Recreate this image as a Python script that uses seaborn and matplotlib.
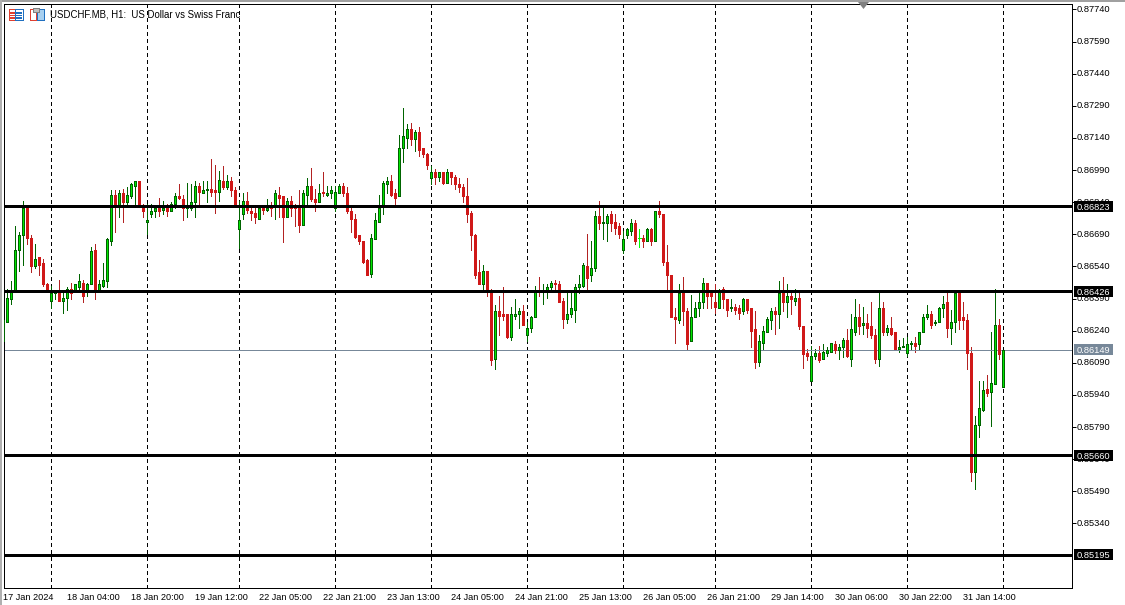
import numpy as np
import pandas as pd
import matplotlib
matplotlib.use("Agg")
import matplotlib.pyplot as plt
import seaborn as sns
from matplotlib.patches import Rectangle, Polygon
from matplotlib.transforms import ScaledTranslation

# H1 candles, prices in points (1 point = 0.00001)
open_pts = [
    86194, 86283, 86390, 86428, 86619, 86685, 86811, 86675, 86540, 86582,
    86554, 86456, 86381, 86414, 86432, 86381, 86395, 86437, 86428, 86446,
    86465, 86423, 86460, 86619, 86428, 86451, 86474, 86661, 86876, 86820,
    86885, 86843, 86871, 86918, 86937, 86820, 86750, 86787, 86797, 86815,
    86806, 86815, 86797, 86834, 86871, 86857, 86815, 86815, 86843, 86918,
    86885, 86895, 86904, 86895, 86890, 86941, 86909, 86941, 86895, 86717,
    86787, 86848, 86801, 86792, 86764, 86815, 86806, 86820, 86825, 86876,
    86871, 86769, 86848, 86815, 86811, 86736, 86876, 86918, 86857, 86839,
    86890, 86876, 86881, 86811, 86881, 86918, 86885, 86801, 86764, 86685,
    86661, 86568, 86507, 86666, 86750, 86825, 86927, 86937, 86881, 86867,
    87091, 87142, 87184, 87133, 87166, 87091, 87067, 86951, 86983, 86960,
    86979, 86932, 86979, 86960, 86927, 86913, 86867, 86792, 86689, 86512,
    86456, 86521, 86418, 86110, 86334, 86320, 86320, 86213, 86311, 86316,
    86334, 86222, 86255, 86306, 86432, 86423, 86428, 86446, 86465, 86460,
    86381, 86297, 86316, 86339, 86442, 86451, 86540, 86498, 86535, 86778,
    86741, 86745, 86783, 86750, 86727, 86619, 86685, 86708, 86741, 86671,
    86671, 86657, 86717, 86657, 86797, 86787, 86563, 86502, 86306, 86292,
    86418, 86334, 86190, 86302, 86348, 86372, 86465, 86414, 86372, 86348,
    86437, 86390, 86344, 86353, 86344, 86330, 86386, 86344, 86246, 86096,
    86185, 86236, 86288, 86334, 86316, 86414, 86376, 86400, 86381, 86395,
    86264, 86138, 86007, 86124, 86138, 86110, 86138, 86143, 86180, 86148,
    86162, 86199, 86110, 86236, 86302, 86269, 86274, 86260, 86222, 86110,
    86344, 86236, 86255, 86232, 86157, 86162, 86134, 86180, 86185, 86176,
    86232, 86302, 86316, 86274, 86283, 86348, 86372, 86255, 86283, 86414,
    86302, 86292, 86134, 85582, 85802, 85872, 85970, 85956, 85993, 86269,
    85975,
]
high_pts = [
    86288, 86437, 86474, 86727, 86703, 86848, 86815, 86689, 86647, 86582,
    86577, 86465, 86451, 86432, 86479, 86418, 86442, 86465, 86460, 86507,
    86479, 86465, 86629, 86643, 86479, 86554, 86675, 86895, 86895, 86895,
    86904, 86909, 86932, 86941, 86937, 86834, 86834, 86834, 86829, 86862,
    86848, 86834, 86839, 86881, 86927, 86876, 86932, 86923, 86937, 86932,
    86937, 86937, 87044, 87016, 86988, 87011, 86965, 86960, 86913, 86848,
    86881, 86890, 86820, 86811, 86829, 86825, 86853, 86839, 86895, 86913,
    86871, 86862, 86871, 86834, 86895, 86899, 86951, 87002, 86904, 86927,
    86979, 86918, 86918, 86918, 86927, 86932, 86909, 86820, 86783, 86685,
    86661, 86577, 86694, 86792, 86876, 86937, 86960, 86965, 86904, 87156,
    87278, 87203, 87208, 87175, 87189, 87091, 87072, 87011, 86993, 86979,
    86983, 86993, 86983, 86969, 86955, 86927, 86951, 86801, 86694, 86568,
    86545, 86521, 86437, 86362, 86404, 86442, 86320, 86353, 86390, 86344,
    86362, 86283, 86311, 86451, 86493, 86460, 86460, 86470, 86479, 86470,
    86395, 86432, 86423, 86456, 86498, 86554, 86694, 86657, 86797, 86848,
    86815, 86787, 86797, 86783, 86745, 86708, 86722, 86764, 86759, 86717,
    86685, 86722, 86722, 86801, 86848, 86787, 86638, 86502, 86344, 86460,
    86493, 86348, 86409, 86376, 86432, 86488, 86465, 86428, 86460, 86437,
    86446, 86390, 86386, 86367, 86358, 86395, 86386, 86344, 86330, 86218,
    86260, 86302, 86348, 86353, 86474, 86493, 86456, 86414, 86437, 86414,
    86264, 86157, 86171, 86157, 86171, 86176, 86166, 86185, 86190, 86176,
    86208, 86250, 86316, 86390, 86367, 86353, 86316, 86372, 86246, 86432,
    86376, 86269, 86306, 86232, 86199, 86204, 86213, 86190, 86213, 86232,
    86320, 86362, 86330, 86292, 86353, 86400, 86414, 86339, 86432, 86414,
    86372, 86320, 86166, 85844, 86007, 86007, 86031, 86236, 86437, 86297,
    86148,
]
low_pts = [
    86190, 86283, 86367, 86428, 86521, 86549, 86643, 86512, 86535, 86502,
    86451, 86423, 86344, 86390, 86381, 86325, 86339, 86386, 86428, 86437,
    86372, 86400, 86460, 86390, 86428, 86446, 86442, 86638, 86703, 86773,
    86750, 86825, 86862, 86829, 86820, 86769, 86694, 86773, 86773, 86778,
    86787, 86778, 86797, 86811, 86853, 86759, 86769, 86806, 86773, 86825,
    86885, 86839, 86871, 86792, 86848, 86904, 86904, 86867, 86820, 86624,
    86764, 86792, 86759, 86745, 86764, 86787, 86797, 86778, 86764, 86773,
    86652, 86769, 86778, 86727, 86703, 86736, 86825, 86848, 86801, 86839,
    86867, 86871, 86862, 86801, 86881, 86867, 86792, 86703, 86671, 86647,
    86554, 86498, 86493, 86666, 86750, 86787, 86881, 86871, 86825, 86867,
    87030, 87095, 87105, 87077, 87058, 87049, 86993, 86927, 86927, 86937,
    86927, 86932, 86923, 86904, 86890, 86839, 86750, 86619, 86484, 86456,
    86428, 86400, 86078, 86059, 86222, 86288, 86204, 86199, 86297, 86255,
    86269, 86194, 86236, 86306, 86404, 86367, 86395, 86428, 86428, 86372,
    86255, 86274, 86302, 86283, 86414, 86442, 86428, 86470, 86521, 86713,
    86666, 86661, 86708, 86694, 86675, 86601, 86671, 86689, 86647, 86633,
    86633, 86657, 86638, 86657, 86769, 86549, 86437, 86302, 86185, 86278,
    86269, 86157, 86190, 86302, 86311, 86348, 86348, 86344, 86325, 86344,
    86348, 86311, 86334, 86320, 86297, 86316, 86325, 86162, 86064, 86073,
    86152, 86236, 86246, 86227, 86255, 86330, 86306, 86316, 86362, 86246,
    86064, 86101, 86007, 86106, 86096, 86106, 86120, 86143, 86138, 86110,
    86115, 86115, 86073, 86222, 86227, 86227, 86213, 86204, 86087, 86073,
    86218, 86218, 86218, 86152, 86143, 86162, 86124, 86152, 86143, 86152,
    86232, 86297, 86255, 86269, 86283, 86302, 86213, 86180, 86236, 86250,
    86246, 86059, 85540, 85503, 85746, 85863, 85933, 85793, 85989, 86110,
    85975,
]
close_pts = [
    86288, 86395, 86423, 86615, 86689, 86811, 86675, 86540, 86577, 86549,
    86456, 86423, 86414, 86423, 86381, 86395, 86437, 86414, 86456, 86474,
    86404, 86460, 86610, 86428, 86456, 86479, 86666, 86876, 86820, 86885,
    86843, 86876, 86923, 86937, 86829, 86797, 86759, 86801, 86815, 86801,
    86815, 86797, 86834, 86867, 86862, 86815, 86829, 86843, 86918, 86890,
    86899, 86904, 86890, 86890, 86946, 86909, 86937, 86895, 86820, 86759,
    86848, 86806, 86792, 86769, 86811, 86806, 86811, 86811, 86881, 86862,
    86769, 86848, 86811, 86811, 86736, 86881, 86918, 86857, 86843, 86885,
    86881, 86881, 86899, 86890, 86918, 86881, 86797, 86764, 86680, 86657,
    86559, 86502, 86671, 86755, 86815, 86932, 86937, 86876, 86862, 87095,
    87147, 87184, 87133, 87166, 87086, 87063, 87016, 86983, 86960, 86979,
    86932, 86979, 86960, 86923, 86909, 86871, 86787, 86685, 86502, 86456,
    86521, 86423, 86101, 86334, 86311, 86311, 86213, 86316, 86320, 86330,
    86269, 86255, 86302, 86432, 86423, 86432, 86446, 86465, 86460, 86376,
    86297, 86320, 86344, 86446, 86456, 86545, 86488, 86535, 86778, 86741,
    86750, 86778, 86745, 86722, 86694, 86666, 86713, 86741, 86661, 86671,
    86661, 86713, 86661, 86797, 86783, 86563, 86502, 86302, 86297, 86418,
    86330, 86180, 86306, 86348, 86376, 86465, 86400, 86400, 86353, 86432,
    86390, 86339, 86353, 86339, 86325, 86390, 86339, 86241, 86096, 86190,
    86241, 86297, 86334, 86316, 86414, 86376, 86400, 86386, 86395, 86264,
    86129, 86120, 86124, 86138, 86101, 86143, 86148, 86185, 86152, 86166,
    86199, 86124, 86246, 86302, 86260, 86278, 86255, 86218, 86110, 86348,
    86236, 86255, 86227, 86157, 86166, 86171, 86176, 86185, 86171, 86232,
    86306, 86316, 86269, 86283, 86348, 86367, 86255, 86283, 86414, 86292,
    86288, 86134, 85582, 85802, 85877, 85965, 85951, 85998, 86269, 86129,
    86148,
]

# bar number of the first candle of each day
day_breaks = [12, 36, 59, 83, 107, 131, 155, 178, 202, 226, 250]
xtick_bars = [0, 16, 32, 48, 64, 80, 96, 112, 128, 144, 160, 176, 192, 208, 224, 240]
xtick_labels = ["17 Jan 2024", "18 Jan 04:00", "18 Jan 20:00", "19 Jan 12:00",
                "22 Jan 05:00", "22 Jan 21:00", "23 Jan 13:00", "24 Jan 05:00",
                "24 Jan 21:00", "25 Jan 13:00", "26 Jan 05:00", "26 Jan 21:00",
                "29 Jan 14:00", "30 Jan 06:00", "30 Jan 22:00", "31 Jan 14:00"]
ytick_labels = ["0.87740", "0.87590", "0.87440", "0.87290", "0.87140", "0.86990",
                "0.86840", "0.86690", "0.86540", "0.86390", "0.86240", "0.86090",
                "0.85940", "0.85790", "0.85640", "0.85490", "0.85340"]
level_prices = ["0.86823", "0.86426", "0.85660", "0.85195"]
last_price = "0.86149"

W, H = 1125, 605


def fx(x):
    return x / W


def fy(y):
    return 1 - y / H


df = pd.DataFrame({"bar": range(len(open_pts)), "open": open_pts, "high": high_pts,
                   "low": low_pts, "close": close_pts})
df[["open", "high", "low", "close"]] = df[["open", "high", "low", "close"]] / 1e5
df["dir"] = np.where(df["close"] > df["open"], "up",
                     np.where(df["close"] < df["open"], "down", "flat"))
df["body_low"] = df[["open", "close"]].min(axis=1)
df["body_h"] = (df["open"] - df["close"]).abs()

# two rows per candle for the wick
wicks = df.melt(id_vars=["bar", "dir"], value_vars=["low", "high"], value_name="price")

sns.set_theme(style="white")
plt.rcParams["font.family"] = ["Liberation Sans", "DejaVu Sans"]

fig = plt.figure(figsize=(W / 100, H / 100), dpi=100)
ax = fig.add_axes([fx(3.5), fy(587.5), fx(1068), (587.5 - 3.5) / H])

# day separators
for b in day_breaks:
    ax.axvline(b, color="black", lw=0.72, ls=(0, (4, 3.5)), zorder=1, antialiased=False)

sns.lineplot(data=wicks, x="bar", y="price", units="bar", estimator=None, hue="dir",
             palette={"up": "#006400", "down": "#b22222", "flat": "#00ff00"},
             legend=False, linewidth=0.72, antialiased=False, ax=ax, zorder=2)

up = df[df["dir"] == "up"]
down = df[df["dir"] == "down"]
sns.barplot(data=up, x="bar", y="body_h", bottom=up["body_low"].values, native_scale=True,
            width=0.5, color="#00e600", saturation=1, errorbar=None, edgecolor="#006400",
            linewidth=0.72, antialiased=False, ax=ax, zorder=3)
sns.barplot(data=down, x="bar", y="body_h", bottom=down["body_low"].values, native_scale=True,
            width=0.5, color="#d01818", saturation=1, errorbar=None, edgecolor="#d01818",
            linewidth=0.72, antialiased=False, ax=ax, zorder=3)
flat = df[df["dir"] == "flat"]
ax.hlines(flat["close"], flat["bar"] - 0.4, flat["bar"] + 0.4, color="#00ff00", lw=0.72,
          antialiased=False, zorder=3)

ax.set_xlim(0.05, 267.05)
ax.set_ylim(0.85041, 0.87768)

# support / resistance levels and last price
for p in level_prices:
    ax.axhline(float(p), color="black", lw=2.0, zorder=4, antialiased=False)
ax.axhline(float(last_price), color="#778899", lw=0.72, zorder=2.5, antialiased=False)

ax.set_xlabel("")
ax.set_ylabel("")
ax.yaxis.tick_right()
ax.set_yticks([float(t) for t in ytick_labels])
ax.set_yticklabels(ytick_labels)
ax.set_xticks(xtick_bars)
ax.set_xticklabels(xtick_labels, ha="left")
ax.tick_params(axis="y", length=2.8, width=0.72, pad=1, labelsize=6.7, colors="black")
ax.tick_params(axis="x", length=2.6, width=0.72, pad=1.6, labelsize=6.6, colors="black")
for lab in ax.get_xticklabels():
    lab.set_transform(lab.get_transform() + ScaledTranslation(-0.5 / 100, 0, fig.dpi_scale_trans))
for lab in ax.get_yticklabels():
    lab.set_transform(lab.get_transform() + ScaledTranslation(0, 1 / 100, fig.dpi_scale_trans))
for sp in ax.spines.values():
    sp.set_color("black")
    sp.set_linewidth(0.72)
    sp.set_visible(True)

# price tags on the scale
trans = ax.get_yaxis_transform()
tag_h = 0.00051


def price_tag(label, colour, shift):
    mid = float(label) + shift
    ax.add_patch(Rectangle((1.00234, mid - tag_h / 2), 39 / 1068, tag_h, transform=trans,
                           fc=colour, ec="none", clip_on=False, zorder=5))
    ax.text(1.00515, mid, label, transform=trans, color="white", fontsize=6.7, va="center_baseline",
            ha="left", zorder=6, clip_on=False)


for p in level_prices:
    price_tag(p, "black", -0.00002)
price_tag(last_price, "#778899", 0.00002)

# chart header
fig.text(fx(49.5), fy(14.5), "USDCHF.MB, H1:  US Dollar vs Swiss Franc", fontsize=6.9,
         color="black", va="center", ha="left", zorder=7)


def box(x0, y0, x1, y1, **kw):
    fig.add_artist(Rectangle((fx(x0), fy(y1)), (x1 - x0) / W, (y1 - y0) / H,
                             transform=fig.transFigure, antialiased=False, **kw))


# toolbar icons
box(8.5, 9.5, 15, 19.5, fc="white", ec="#e04030", lw=0.72)
box(15, 9.5, 22.5, 19.5, fc="white", ec="#2070c0", lw=0.72)
for yy in (12.5, 15, 17.5):
    box(10, yy, 14, yy + 0.3, fc="#e04030", ec="#e04030", lw=0.5)
    box(16, yy, 21, yy + 0.3, fc="#2070c0", ec="#2070c0", lw=0.5)
box(29.5, 9, 35.5, 19.5, fc="white", ec="#e04030", lw=0.72)
box(37, 9, 43.5, 19.5, fc="#a8d0f0", ec="#2070c0", lw=0.72)
box(33, 8, 39.5, 11.5, fc="#c0c0c0", ec="#808080", lw=0.5)

# window frame and shift marker
box(0, 0, 1125, 2, fc="#a0a0a0", ec="none")
box(0, 0, 2, 605, fc="#b0b0b0", ec="none")
fig.add_artist(Polygon([[fx(858), fy(2)], [fx(869), fy(2)], [fx(863.5), fy(9)]],
                       closed=True, fc="#808080", ec="none", transform=fig.transFigure))

fig.savefig("out.png", dpi=100)
